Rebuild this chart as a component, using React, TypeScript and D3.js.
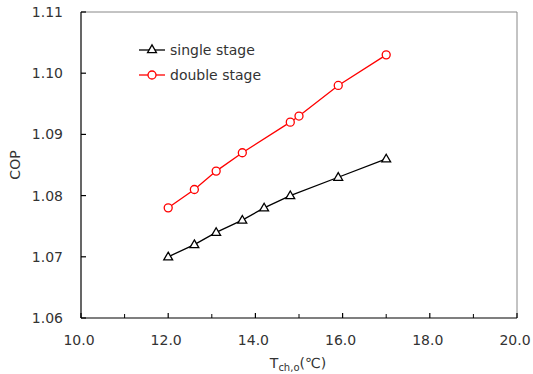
import React from "react";
import * as d3 from "d3";

const xSingle = [12.0, 12.6, 13.1, 13.7, 14.2, 14.8, 15.9, 17.0];
const ySingle = [1.07, 1.072, 1.074, 1.076, 1.078, 1.08, 1.083, 1.086];
const xDouble = [12.0, 12.6, 13.1, 13.7, 14.8, 15.0, 15.9, 17.0];
const yDouble = [1.078, 1.081, 1.084, 1.087, 1.092, 1.093, 1.098, 1.103];
const xTicks = [10, 12, 14, 16, 18, 20];
const xMinorTicks = [11, 13, 15, 17, 19];
const yTicks = [1.06, 1.07, 1.08, 1.09, 1.1, 1.11];
const seriesNames = ["single stage", "double stage"];

const W = 533, H = 374;
const L = 81, R = 517, T = 12, B = 318;
const font = "'DejaVu Sans', sans-serif";

export default function App() {
  const x = d3.scaleLinear().domain([10, 20]).range([L, R]);
  const y = d3.scaleLinear().domain([1.06, 1.11]).range([B, T]);
  const line = d3.line<[number, number]>().x(d => x(d[0])).y(d => y(d[1]));
  const single: [number, number][] = xSingle.map((v, i) => [v, ySingle[i]]);
  const dbl: [number, number][] = xDouble.map((v, i) => [v, yDouble[i]]);
  const tri = d3.symbol().type(d3.symbolTriangle).size(34)() as string;
  const textColor = "#333";

  return (
    <svg width={W} height={H} style={{ position: "absolute", left: 0, top: 0 }}>
      <rect x={0} y={0} width={W} height={H} fill="#fff" />
      {/* box */}
      <line x1={L} x2={R} y1={T} y2={T} stroke="#888" strokeWidth={1} />
      <line x1={R} x2={R} y1={T} y2={B} stroke="#888" strokeWidth={1} />
      <line x1={L} x2={L} y1={T} y2={B} stroke="#000" strokeWidth={1.2} />
      <line x1={L} x2={R} y1={B} y2={B} stroke="#000" strokeWidth={1.2} />
      {/* y ticks */}
      {yTicks.map(t => (
        <g key={"y" + t}>
          <line x1={L} x2={L + 5} y1={y(t)} y2={y(t)} stroke="#000" strokeWidth={1.2} />
          <text x={63} y={y(t) + 5} textAnchor="end" fontFamily={font} fontSize={14} fill={textColor}>
            {d3.format(".2f")(t)}
          </text>
        </g>
      ))}
      {/* x ticks */}
      {xTicks.map(t => (
        <g key={"x" + t}>
          <line x1={x(t)} x2={x(t)} y1={B} y2={B - 5} stroke="#000" strokeWidth={1.2} />
          <text x={x(t) - 2} y={345} textAnchor="middle" fontFamily={font} fontSize={14} fill={textColor}>
            {d3.format(".1f")(t)}
          </text>
        </g>
      ))}
      {xMinorTicks.map(t => (
        <line key={"xm" + t} x1={x(t)} x2={x(t)} y1={B} y2={B - 4} stroke="#000" strokeWidth={1} />
      ))}
      {/* axis titles */}
      <text transform={`translate(20,${(T + B) / 2}) rotate(-90)`} textAnchor="middle" fontFamily={font} fontSize={14} fill={textColor}>
        COP
      </text>
      <text x={298} y={368} textAnchor="middle" fontFamily={font} fontSize={14} fill={textColor}>
        T<tspan fontSize={10} dy={3}>ch,o</tspan><tspan dy={-3}>(℃)</tspan>
      </text>
      {/* series */}
      <path d={line(single) as string} fill="none" stroke="#000" strokeWidth={1.3} />
      {single.map((d, i) => (
        <path key={"s" + i} d={tri} transform={`translate(${x(d[0])},${y(d[1]) + 0.5})`} fill="#fff" stroke="#000" strokeWidth={1.3} />
      ))}
      <path d={line(dbl) as string} fill="none" stroke="#f00" strokeWidth={1.3} />
      {dbl.map((d, i) => (
        <circle key={"d" + i} cx={x(d[0])} cy={y(d[1])} r={4} fill="#fff" stroke="#f00" strokeWidth={1.3} />
      ))}
      {/* legend */}
      <line x1={139} x2={165} y1={50} y2={50} stroke="#000" strokeWidth={1.3} />
      <path d={tri} transform="translate(152,50)" fill="#fff" stroke="#000" strokeWidth={1.3} />
      <text x={170} y={55} fontFamily={font} fontSize={14} fill={textColor}>{seriesNames[0]}</text>
      <line x1={139} x2={165} y1={75} y2={75} stroke="#f00" strokeWidth={1.3} />
      <circle cx={152} cy={75} r={4} fill="#fff" stroke="#f00" strokeWidth={1.3} />
      <text x={170} y={80} fontFamily={font} fontSize={14} fill={textColor}>{seriesNames[1]}</text>
    </svg>
  );
}
